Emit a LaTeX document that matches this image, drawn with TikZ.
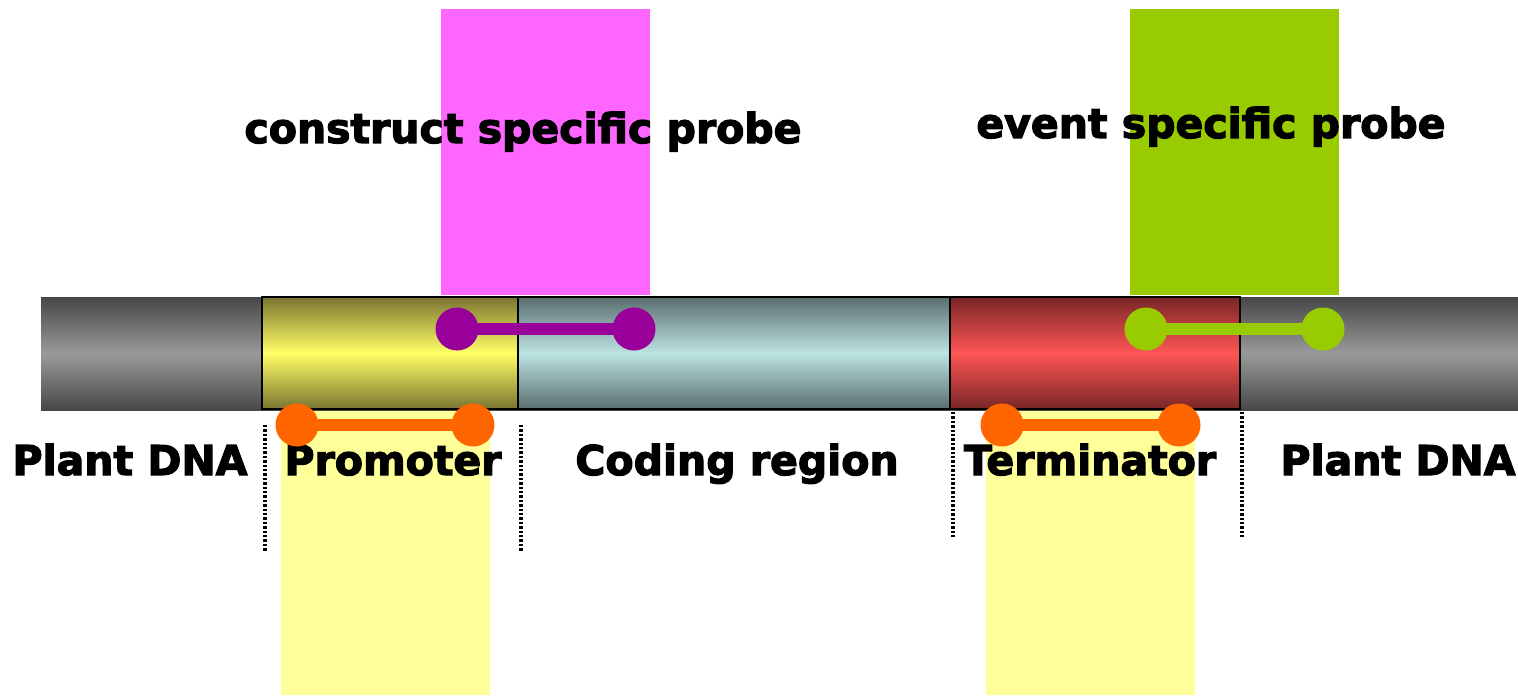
\documentclass[tikz,border=0pt]{standalone}
\usepackage{fontspec}
\setmainfont{DejaVu Sans}
\newfontfamily\labelfont[FakeBold=3]{DejaVu Sans Bold}
\usepackage{xcolor}
\usetikzlibrary{positioning}
\definecolor{constructpink}{HTML}{FF66FF}
\definecolor{eventgreen}{HTML}{99CC00}
\definecolor{primeryellow}{HTML}{FFFF99}
\definecolor{probepurple}{HTML}{990099}
\definecolor{primerorange}{HTML}{FF6600}
\definecolor{dnadark}{HTML}{474747}
\definecolor{dnalight}{HTML}{9A9A9A}
\definecolor{promdark}{HTML}{7A7530}
\definecolor{promlight}{HTML}{FFFF66}
\definecolor{codedark}{HTML}{5A6E6E}
\definecolor{codelight}{HTML}{BDE3E3}
\definecolor{termdark}{HTML}{782626}
\definecolor{termlight}{HTML}{FF5555}
\tikzset{
  dnalabel/.style={font=\fontsize{20.5}{24}\selectfont\labelfont, anchor=base, inner sep=0pt},
  probeend/.style={circle, inner sep=0pt, minimum size=21.5pt},
  probebar/.style={line width=6pt},
  border/.style={dash pattern=on 1.2pt off 1pt, line width=1.7pt},
  segment/.style={draw=black, line width=0.9pt},
}
\begin{document}
\begin{tikzpicture}[x=0.5pt, y=-0.5pt]
	\useasboundingbox (0,0) rectangle (1518,695);
	% probe areas
	\fill[constructpink] (441,9) rectangle (650,295);
	\fill[eventgreen] (1130,9) rectangle (1339,295);
	\fill[primeryellow] (281,400) rectangle (490,695);
	\fill[primeryellow] (986,400) rectangle (1195,695);
	\node[dnalabel] (cprobe) at (523,143) {construct specific probe};
	\node[dnalabel] (eprobe) at (1211,138) {event specific probe};
	% draw dna
	\shade[top color=dnadark, bottom color=dnadark, middle color=dnalight] (41,297) rectangle (1518,410);
	\shade[segment, top color=promdark, bottom color=promdark, middle color=promlight] (262,297) rectangle (518,409);
	\shade[segment, top color=codedark, bottom color=codedark, middle color=codelight] (518,297) rectangle (950,409);
	\shade[segment, top color=termdark, bottom color=termdark, middle color=termlight] (950,297) rectangle (1240,409);
	% labels
	\node[dnalabel] (plantL) at (130,475) {Plant DNA};
	\node[dnalabel] (prom) at (393,475) {Promoter};
	\node[dnalabel] (coding) at (737,475) {Coding region};
	\node[dnalabel] (term) at (1090,475) {Terminator};
	\node[dnalabel] (plantR) at (1398,475) {Plant DNA};
	% borders
	\coordinate (b1a) at (265,425); \coordinate (b1b) at (265,552);
	\coordinate (b2a) at (521,425); \coordinate (b2b) at (521,552);
	\coordinate (b3a) at (953,412); \coordinate (b3b) at (953,537);
	\coordinate (b4a) at (1242,412); \coordinate (b4b) at (1242,537);
	\draw[border] (b1a) -- (b1b);
	\draw[border] (b2a) -- (b2b);
	\draw[border] (b3a) -- (b3b);
	\draw[border] (b4a) -- (b4b);
	% probes
	\node[probeend, fill=probepurple] (cs1) at (457,329) {};
	\node[probeend, fill=probepurple] (cs2) at (634,329) {};
	\draw[probebar, probepurple] (cs1.center) -- (cs2.center);
	\node[probeend, fill=eventgreen] (es1) at (1146,329) {};
	\node[probeend, fill=eventgreen] (es2) at (1323,329) {};
	\draw[probebar, eventgreen] (es1.center) -- (es2.center);
	% primers
	\node[probeend, fill=primerorange] (pp1) at (297,425) {};
	\node[probeend, fill=primerorange] (pp2) at (473,425) {};
	\draw[probebar, primerorange] (pp1.center) -- (pp2.center);
	\node[probeend, fill=primerorange] (tp1) at (1002,425) {};
	\node[probeend, fill=primerorange] (tp2) at (1179,425) {};
	\draw[probebar, primerorange] (tp1.center) -- (tp2.center);
\end{tikzpicture}
\end{document}
